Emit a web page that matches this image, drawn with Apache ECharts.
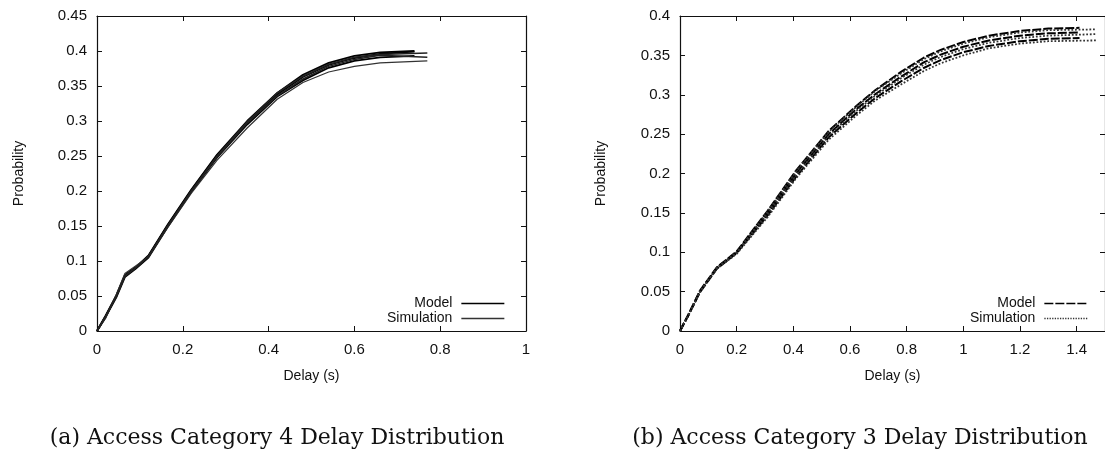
<!DOCTYPE html>
<html>
<head>
<meta charset="utf-8">
<script src="https://cdn.jsdelivr.net/npm/echarts@6/dist/echarts.min.js"></script>
<style>
  html, body { margin: 0; padding: 0; background: #fff; }
  #chart { width: 1105px; height: 452px; }
</style>
</head>
<body>
<div id="chart"></div>
<script>
// (a) Access Category 4 - delay (s) sample points
const xModelA = [0, 0.02, 0.045, 0.065, 0.09, 0.12, 0.165, 0.22, 0.28, 0.35, 0.42, 0.48, 0.54, 0.6, 0.66, 0.74]
const xSimA = [0, 0.02, 0.045, 0.065, 0.09, 0.12, 0.165, 0.22, 0.28, 0.35, 0.42, 0.48, 0.54, 0.6, 0.66, 0.77]
const modelA1 = [0, 0.021, 0.05, 0.079, 0.09, 0.107, 0.151, 0.201, 0.251, 0.298, 0.338, 0.363, 0.38, 0.39, 0.396, 0.399]
const modelA2 = [0, 0.02, 0.048, 0.077, 0.089, 0.105, 0.149, 0.199, 0.248, 0.295, 0.335, 0.358, 0.376, 0.386, 0.391, 0.393]
const modelA3 = [0, 0.022, 0.051, 0.08, 0.091, 0.108, 0.152, 0.202, 0.252, 0.3, 0.34, 0.366, 0.383, 0.393, 0.398, 0.4]
const simA1 = [0, 0.018, 0.052, 0.082, 0.093, 0.106, 0.148, 0.197, 0.244, 0.29, 0.331, 0.355, 0.37, 0.378, 0.383, 0.386]
const simA2 = [0, 0.02, 0.049, 0.078, 0.09, 0.106, 0.15, 0.2, 0.249, 0.297, 0.336, 0.36, 0.378, 0.388, 0.394, 0.391]
const simA3 = [0, 0.021, 0.05, 0.079, 0.09, 0.107, 0.15, 0.2, 0.25, 0.299, 0.34, 0.364, 0.381, 0.391, 0.395, 0.397]

// (b) Access Category 3
const xModelB = [0, 0.03, 0.07, 0.1, 0.13, 0.2, 0.31, 0.41, 0.525, 0.62, 0.69, 0.78, 0.86, 0.92, 1.0, 1.09, 1.2, 1.3, 1.41]
const xSimB = [0, 0.03, 0.07, 0.1, 0.13, 0.2, 0.31, 0.41, 0.525, 0.62, 0.69, 0.78, 0.86, 0.92, 1.0, 1.09, 1.2, 1.3, 1.47]
const modelB1 = [0, 0.021, 0.051, 0.066, 0.081, 0.101, 0.153, 0.204, 0.254, 0.285, 0.306, 0.329, 0.347, 0.357, 0.367, 0.375, 0.381, 0.384, 0.385]
const modelB2 = [0, 0.021, 0.05, 0.065, 0.08, 0.1, 0.15, 0.2, 0.25, 0.281, 0.301, 0.323, 0.341, 0.351, 0.361, 0.369, 0.375, 0.378, 0.379]
const modelB3 = [0, 0.02, 0.049, 0.064, 0.079, 0.099, 0.147, 0.196, 0.246, 0.276, 0.296, 0.317, 0.334, 0.344, 0.354, 0.362, 0.368, 0.371, 0.372]
const simB1 = [0, 0.021, 0.05, 0.065, 0.08, 0.1, 0.152, 0.203, 0.253, 0.284, 0.305, 0.327, 0.345, 0.355, 0.365, 0.373, 0.379, 0.382, 0.383]
const simB2 = [0, 0.02, 0.05, 0.065, 0.08, 0.1, 0.149, 0.198, 0.248, 0.279, 0.299, 0.321, 0.338, 0.348, 0.358, 0.366, 0.372, 0.375, 0.377]
const simB3 = [0, 0.02, 0.049, 0.064, 0.079, 0.098, 0.145, 0.194, 0.243, 0.273, 0.293, 0.313, 0.33, 0.34, 0.35, 0.359, 0.365, 0.368, 0.369]

const captions = ['(a) Access Category 4 Delay Distribution', '(b) Access Category 3 Delay Distribution']

const sans = 'Liberation Sans, Arial, sans-serif'
const ink = '#111'

const makeLine = (name, xs, ys, g, type, color, width) => ({
  name,
  type: 'line',
  xAxisIndex: g * 2,
  yAxisIndex: g * 2,
  data: xs.map((x, i) => [x, ys[i]]),
  symbol: 'none',
  showSymbol: false,
  smooth: false,
  silent: true,
  itemStyle: { color },
  lineStyle: { color, width, type },
})

// bottom/left axes carry labels, top/right just mirror the ticks (gnuplot box)
const xAxisPair = (g, max) => {
  const base = {
    type: 'value', gridIndex: g, min: 0, max, interval: 0.2,
    splitLine: { show: false },
    axisLine: { show: true, onZero: false, lineStyle: { color: ink, width: 1.2 } },
    axisTick: { inside: true, length: 5, lineStyle: { color: ink } },
  }
  return [
    { ...base, position: 'bottom',
      name: 'Delay (s)', nameLocation: 'middle', nameGap: 38,
      nameTextStyle: { fontFamily: sans, fontSize: 14, color: ink },
      axisLabel: { fontFamily: sans, fontSize: 15, color: ink, margin: 11, showMaxLabel: max === 1 } },
    { ...base, position: 'top', axisLabel: { show: false } },
  ]
}
const yAxisPair = (g, max, gap) => {
  const base = {
    type: 'value', gridIndex: g, min: 0, max, interval: 0.05,
    splitLine: { show: false },
    axisLine: { show: true, onZero: false, lineStyle: { color: ink, width: 1.2 } },
    axisTick: { inside: true, length: 5, lineStyle: { color: ink } },
  }
  return [
    { ...base, position: 'left',
      name: 'Probability', nameLocation: 'middle', nameGap: gap, nameRotate: 90,
      nameTextStyle: { fontFamily: sans, fontSize: 14, color: ink },
      axisLabel: { fontFamily: sans, fontSize: 15, color: ink, margin: 10 } },
    { ...base, position: 'right', axisLabel: { show: false } },
  ]
}

const legendFor = (prefix, right) => ({
  data: [prefix + 'Model', prefix + 'Simulation'],
  orient: 'vertical',
  align: 'right',
  right,
  top: 296,
  padding: 0,
  itemGap: 0,
  itemWidth: 43,
  itemHeight: 10,
  selectedMode: false,
  itemStyle: { opacity: 0 },
  lineStyle: { width: 1.3 },
  formatter: (name) => name.slice(2),
  textStyle: { fontFamily: sans, fontSize: 14, color: ink, lineHeight: 15, padding: [0, 4, 0, 0] },
})

const chart = echarts.init(document.getElementById('chart'))
chart.setOption({
  animation: false,
  backgroundColor: '#fff',
  grid: [
    { left: 97, top: 16, width: 429, height: 315 },
    // right panel is cut off at the page edge in the source
    { left: 680, top: 16, width: 425.5, height: 315 },
  ],
  xAxis: [...xAxisPair(0, 1), ...xAxisPair(1, 1.5)],
  yAxis: [...yAxisPair(0, 0.45, 71), ...yAxisPair(1, 0.4, 72)],
  legend: [legendFor('a:', 600), legendFor('b:', 17)],
  series: [
    makeLine('a:Model', xModelA, modelA1, 0, 'solid', '#000', 1.8),
    makeLine('a:Model', xModelA, modelA2, 0, 'solid', '#000', 1.8),
    makeLine('a:Model', xModelA, modelA3, 0, 'solid', '#000', 1.8),
    makeLine('a:Simulation', xSimA, simA1, 0, 'solid', '#333', 1.2),
    makeLine('a:Simulation', xSimA, simA2, 0, 'solid', '#222', 1.5),
    makeLine('a:Simulation', xSimA, simA3, 0, 'solid', '#222', 1.5),
    makeLine('b:Model', xModelB, modelB1, 1, [9, 2], '#000', 2),
    makeLine('b:Model', xModelB, modelB2, 1, [9, 2], '#000', 2),
    makeLine('b:Model', xModelB, modelB3, 1, [9, 2], '#000', 2),
    makeLine('b:Simulation', xSimB, simB1, 1, 'dotted', '#333', 1.8),
    makeLine('b:Simulation', xSimB, simB2, 1, 'dotted', '#333', 1.8),
    makeLine('b:Simulation', xSimB, simB3, 1, 'dotted', '#333', 1.8),
  ],
  graphic: [
    { type: 'text', x: 277, y: 438, silent: true,
      style: { text: captions[0], font: '22px "DejaVu Serif", serif', fill: ink, align: 'center', verticalAlign: 'middle' } },
    { type: 'text', x: 860, y: 438, silent: true,
      style: { text: captions[1], font: '22px "DejaVu Serif", serif', fill: ink, align: 'center', verticalAlign: 'middle' } },
  ],
})
window.addEventListener('resize', () => {
  chart.resize()
})
</script>
</body>
</html>
